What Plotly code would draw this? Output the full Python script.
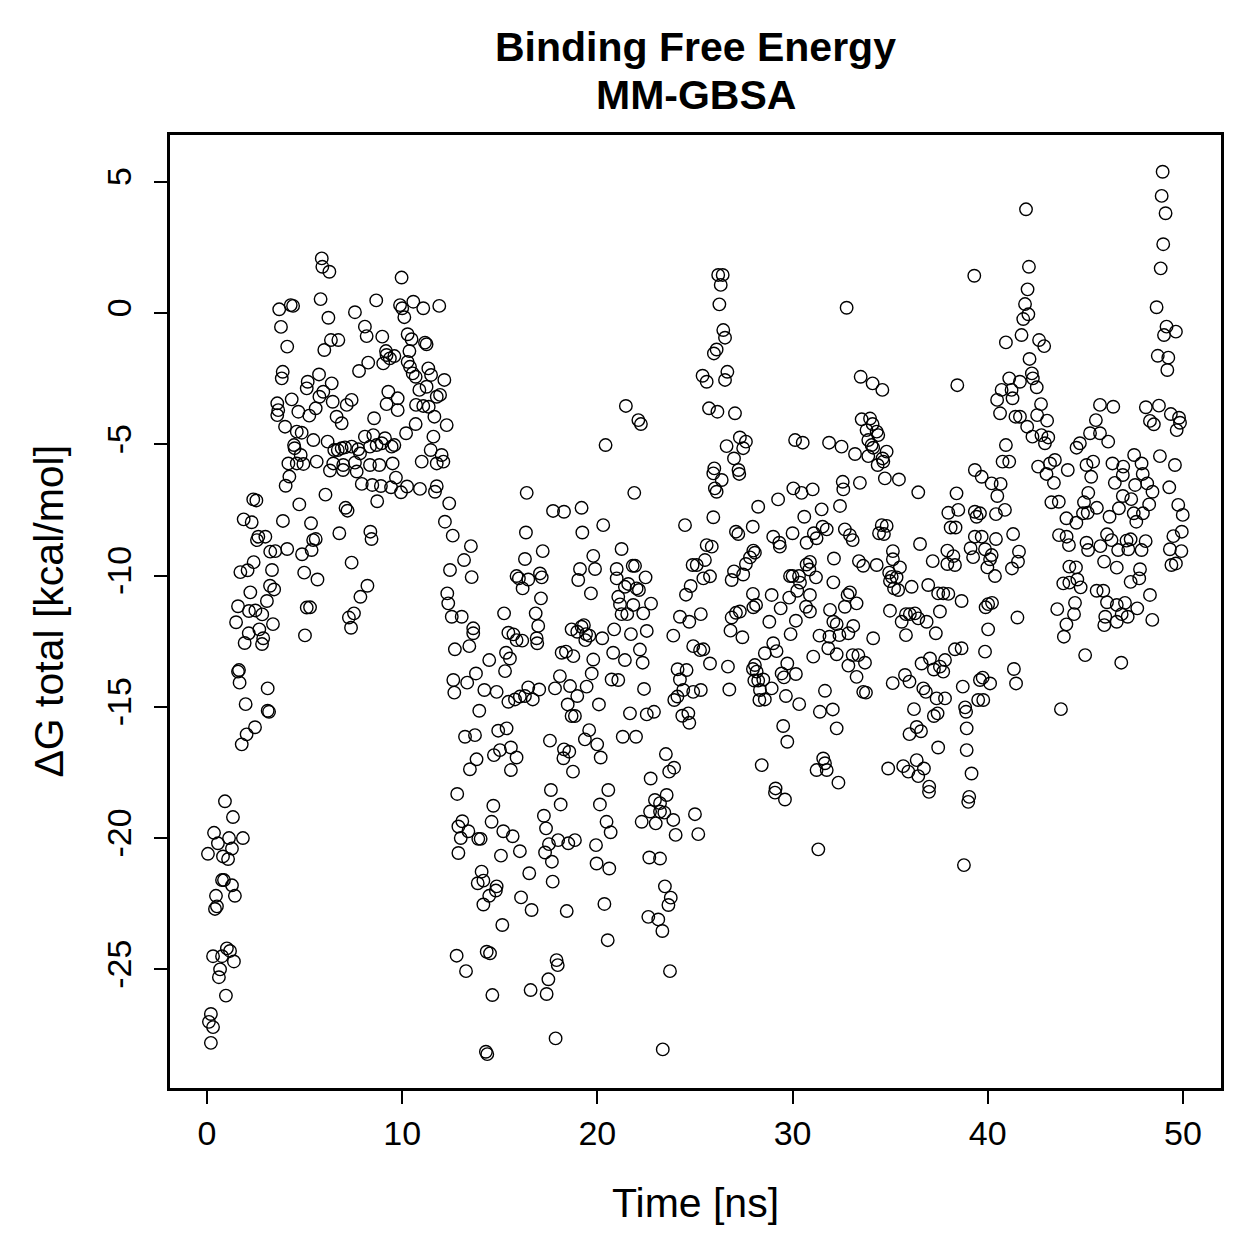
import plotly.graph_objects as go

# (time [ns], dG total [kcal/mol]), grouped by region
seg_0_2 = [(0.92,-18.6),(1.33,-19.2),(0.36,-19.8),(0.56,-20.2),(1.13,-20.0),(1.84,-20.0),(1.28,-20.4),(0.05,-20.6),(0.82,-20.7),(1.08,-20.8),
           (0.77,-21.6),(0.87,-21.6),(1.28,-21.8),(1.43,-22.2),(0.46,-22.2),(0.51,-22.6),(0.41,-22.7),(1.02,-24.2),(1.18,-24.3),(0.31,-24.5),
           (0.77,-24.5),(1.38,-24.7),(0.67,-25.0),(0.61,-25.3),(0.97,-26.0),(0.2,-26.7),(0.1,-27.0),(0.31,-27.2),(0.2,-27.8)]

seg_2_12_low = [(1.78,-16.43),(2.03,-16.05),(2.46,-15.78),(1.98,-14.9),(3.11,-15.15),(3.18,-15.19),(3.11,-14.3),(1.67,-14.08),(1.59,-13.66),(1.64,-13.6),
                (5.02,-12.28),(1.93,-12.57),(2.82,-12.61),(2.88,-12.39),(2.14,-12.2),(2.68,-12.05),(3.38,-11.85),(1.49,-11.78),(1.59,-11.17),(2.15,-11.35),
                (2.48,-11.33),(2.83,-11.48),(3.07,-10.97),(2.22,-10.64),(3.23,-10.39),(3.44,-10.53),(1.71,-9.87),(2.08,-9.8),(2.39,-9.49),(3.33,-9.79),
                (4.98,-9.89),(5.66,-10.15),(5.11,-11.22),(5.28,-11.21),(7.41,-9.51),(8.22,-10.39),(7.86,-10.81),(7.53,-11.44),(7.27,-11.6),(7.38,-11.99),
                (1.88,-7.86),(2.29,-7.97),(2.37,-7.1),(2.53,-7.14),(2.63,-8.52),(2.99,-8.52),(2.56,-8.65),(3.24,-9.09),(3.5,-9.07),(4.11,-8.99),
                (3.89,-7.92),(4.73,-7.29),(4.87,-9.19),(5.36,-9.03),(5.44,-8.65),(5.57,-8.61),(5.33,-8.01),(6.07,-6.92),(6.78,-8.39),(7.1,-7.42),
                (7.2,-7.53),(8.37,-8.33),(8.43,-8.61),(8.72,-7.17),(4.03,-6.58),(4.22,-6.23),(7.93,-6.51),(8.47,-6.55),(8.91,-6.59),(9.43,-6.64),
                (9.94,-6.83),(10.25,-6.61),(10.91,-6.7),(9.68,-6.27),(11.68,-6.81),(11.77,-6.6),(6.3,-6.0),(6.97,-5.98),(7.67,-6.04)]

seg_3_12_high = [(5.88,2.08),(5.91,1.76),(6.27,1.57),(9.97,1.35),(5.82,0.53),(8.67,0.48),(3.7,0.14),(4.29,0.3),(4.41,0.27),(6.22,-0.18),
                 (7.58,0.03),(9.89,0.3),(10.0,0.18),(10.11,-0.16),(10.57,0.43),(11.08,0.18),(11.9,0.27),(3.79,-0.53),(4.11,-1.28),(8.09,-0.52),
                 (8.18,-0.88),(8.98,-0.9),(6.35,-1.03),(6.73,-1.03),(6.01,-1.41),(10.28,-0.81),(10.48,-1.0),(11.17,-1.13),(11.25,-1.19),(10.37,-1.45),
                 (9.17,-1.45),(9.2,-1.6),(9.37,-1.73),(9.6,-1.64),(9.03,-1.92),(8.26,-1.89),(7.79,-2.21),(10.28,-1.86),(10.4,-2.05),(10.54,-2.3),
                 (10.69,-2.43),(11.34,-2.11),(11.48,-2.36),(3.88,-2.24),(3.83,-2.49),(5.74,-2.34),(5.16,-2.62),(5.11,-2.87),(6.39,-2.68),(5.96,-3.0),
                 (5.76,-3.19),(4.34,-3.29),(3.6,-3.44),(3.65,-3.7),(3.6,-3.89),(6.44,-3.38),(7.41,-3.31),(7.16,-3.5),(4.68,-3.76),(5.24,-3.91),
                 (5.57,-3.63),(6.64,-3.95),(6.9,-4.2),(9.29,-3.0),(9.77,-3.25),(9.2,-3.47),(9.77,-3.7),(8.56,-4.01),(10.71,-3.5),(10.88,-2.93),
                 (11.25,-2.81),(11.08,-3.54),(11.36,-3.57),(11.65,-3.95),(11.77,-3.19),(10.69,-4.23),(10.2,-4.58),(4.0,-4.33),(4.6,-4.52),(4.85,-4.56),
                 (5.45,-4.84),(6.18,-4.9),(4.46,-5.03),(4.49,-5.15),(4.8,-5.41),(4.17,-5.73),(4.6,-5.73),(4.94,-5.75),(5.62,-5.66),(6.52,-5.22),
                 (6.7,-5.22),(6.9,-5.15),(7.07,-5.12),(7.41,-5.09),(6.47,-5.73),(6.98,-5.79),(7.58,-5.7),(7.75,-5.19),(7.84,-5.35),(8.09,-4.71),
                 (8.35,-5.09),(8.52,-4.65),(8.69,-5.03),(8.95,-4.96),(9.12,-4.77),(9.46,-5.09),(9.6,-5.03),(9.51,-5.73),(8.83,-5.79),(8.35,-5.79),
                 (11.0,-5.66),(11.46,-5.22),(11.6,-4.71),(11.77,-5.73),(12.16,-2.55),(11.94,-3.12),(12.28,-4.27),(12.02,-5.41),(12.11,-5.66)]

seg_12_26_mid = [(21.46,-3.54),(22.1,-4.08),(22.23,-4.23),(20.42,-5.03),
                 (16.38,-6.85),(21.89,-6.85),(17.73,-7.54),(18.29,-7.57),(19.19,-7.42),(20.3,-8.08),(24.49,-8.08),(19.23,-8.36),(16.34,-8.36),(12.41,-7.25),
                 (12.19,-7.95),(12.59,-8.48),(13.52,-8.88),(17.2,-9.07),(21.24,-8.99),(19.79,-9.25),(19.88,-9.75),(19.11,-9.75),(19.02,-10.17),(16.29,-9.37),
                 (13.17,-9.41),(12.45,-9.79),(13.56,-10.06),(15.86,-10.02),(15.98,-10.11),(16.46,-10.15),(16.17,-10.49),(17.06,-9.92),(17.15,-10.07),(17.11,-10.87),
                 (19.67,-10.68),(20.99,-9.75),(20.99,-10.11),(21.81,-9.63),(21.93,-9.63),(22.47,-10.07),(21.58,-10.32),(21.41,-10.43),(22.01,-10.49),(22.13,-10.55),
                 (21.07,-10.81),(21.16,-11.1),(21.84,-11.12),(21.24,-11.47),(21.53,-11.47),(22.35,-11.44),(22.75,-11.07),(22.53,-12.11),(21.72,-12.23),(22.18,-12.82),
                 (22.32,-13.32),(21.41,-13.22),(20.81,-12.94),(20.86,-12.05),(20.25,-12.39),(19.79,-13.2),(19.71,-13.73),(20.73,-13.96),(21.07,-13.98),(22.39,-14.32),
                 (19.45,-14.23),(18.97,-14.59),(18.48,-14.91),(18.68,-15.35),(18.85,-15.35),(20.08,-14.91),(21.67,-15.25),(22.53,-15.29),(22.9,-15.19),(19.58,-15.89),
                 (19.36,-16.24),(19.99,-16.43),(20.17,-16.93),(21.3,-16.14),(21.98,-16.14),(23.51,-16.8),(23.68,-17.47),(23.93,-17.32),(22.73,-17.73),(18.75,-17.47),
                 (17.57,-16.29),(18.29,-16.62),(18.56,-16.71),(18.26,-16.96),(15.57,-16.55),(15.86,-16.93),(15.57,-17.41),(15.01,-16.65),(14.7,-16.84),(15.35,-15.82),
                 (14.92,-15.91),(13.73,-16.08),(13.22,-16.14),(13.81,-17.0),(13.47,-17.38),(13.95,-15.15),(12.67,-14.46),(12.62,-13.98),(13.33,-14.08),(13.78,-13.73),
                 (14.21,-14.36),(14.84,-14.43),(15.44,-14.81),(15.78,-14.72),(16.03,-14.61),(16.29,-14.59),(16.46,-14.26),(16.69,-14.72),(17.02,-14.34),(17.83,-14.3),
                 (18.08,-13.83),(18.6,-14.21),(14.46,-13.22),(15.27,-13.64),(15.52,-13.16),(15.32,-12.94),(12.7,-12.81),(13.44,-12.69),(13.64,-12.01),(13.64,-12.2),
                 (13.05,-11.57),(12.54,-11.57),(12.36,-11.06),(12.31,-10.68),(15.22,-11.44),(15.44,-12.18),(15.7,-12.24),(15.86,-12.46),(16.15,-12.48),(16.84,-11.44),
                 (16.97,-11.92),(16.89,-12.39),(16.92,-12.58),(18.17,-12.94),(18.39,-12.9),(18.77,-13.07),(18.68,-12.05),(18.97,-12.14),(19.19,-11.95),(19.31,-11.89),
                 (19.42,-12.23),(19.59,-12.29),(19.38,-12.46),(23.89,-12.29),(24.11,-13.57),(24.23,-13.96),(24.57,-13.6),(23.94,-14.74),(24.1,-14.61),(24.4,-14.36),
                 (24.91,-14.43),(25.3,-14.36),(24.35,-15.34),(24.66,-15.25),(24.71,-15.61),(24.91,-12.69),(25.26,-12.84),(25.43,-12.81),(24.23,-11.57),(24.71,-11.76),
                 (25.3,-11.47),(24.54,-10.73),(24.78,-10.4),(24.88,-9.6),(25.09,-9.6),(25.51,-9.41),(25.43,-10.11),(25.6,-8.84)]

seg_12_26_low = [(12.82,-18.32),(14.67,-18.77),(13.08,-19.36),(12.88,-19.56),(13.39,-19.74),(13.0,-20.0),(13.9,-20.03),(14.02,-20.03),(14.58,-19.38),(15.18,-19.74),
                 (15.66,-19.93),(12.88,-20.57),(15.06,-20.67),(16.03,-20.5),(17.26,-19.15),(17.37,-19.63),(18.12,-18.72),(17.52,-20.23),(17.32,-20.55),(17.99,-20.08),
                 (18.51,-20.2),(18.85,-20.08),(17.67,-20.9),(16.51,-21.34),(17.71,-21.66),(14.07,-21.28),(13.87,-21.72),(14.16,-21.62),(14.84,-21.84),(14.8,-22.0),
                 (14.46,-22.2),(14.16,-22.53),(16.09,-22.26),(16.63,-22.74),(18.43,-22.78),(15.13,-23.31),(20.13,-18.72),(20.47,-19.38),(20.68,-19.78),(19.93,-20.27),
                 (19.96,-20.97),(20.61,-21.16),(20.36,-22.51),(20.53,-23.89),(22.27,-19.38),(22.7,-18.99),(22.95,-18.55),(23.21,-18.67),(23.55,-18.36),(23.21,-18.99),
                 (23.43,-19.03),(22.99,-19.44),(23.89,-19.31),(24.01,-19.88),(25.0,-19.09),(25.17,-19.85),(22.66,-20.74),(23.21,-20.78),(23.46,-21.84),(23.76,-22.27),
                 (23.64,-22.55),(22.61,-23.0),(23.12,-23.1),(23.33,-23.54),(23.72,-25.07),(23.35,-28.05),(12.79,-24.48),(13.27,-25.07),(14.33,-24.33),(14.5,-24.39),
                 (14.62,-25.98),(14.29,-28.14),(14.36,-28.23),(16.58,-25.79),(17.4,-25.94),(17.49,-25.38),(17.91,-24.65),(17.97,-24.84),(17.86,-27.63),(20.56,-18.17),
                 (17.62,-18.17)]

seg_25_40_high = [(25.39,-2.39),(25.6,-2.62),(25.72,-3.63),
                  (26.19,1.45),(26.42,1.45),(26.32,1.07),(26.25,0.33),(26.45,-0.65),(26.54,-0.94),(26.11,-1.39),(25.97,-1.54),(26.66,-2.24),(26.54,-2.55),
                  (26.15,-3.76),(27.05,-3.82),(27.3,-4.74),(27.61,-4.9),(27.47,-5.15),(26.62,-5.07),(27.0,-5.54),(25.99,-5.92),(27.23,-5.98),(32.77,0.2),
                  (39.31,1.42),(38.44,-2.75),(33.49,-2.43),(34.1,-2.68),(34.6,-2.93),(30.13,-4.84),(30.52,-4.94),(31.87,-4.94),(32.51,-5.09),(33.2,-5.37),
                  (33.54,-4.05),(33.97,-4.02),(34.1,-4.23),(33.79,-4.46),(34.31,-4.52),(34.39,-4.65),(33.88,-4.84),(34.05,-5.03),(34.13,-5.13),(33.88,-5.45),
                  (34.82,-5.28),(34.61,-5.54),(34.65,-5.66),(34.36,-5.79),(39.34,-5.98)]

seg_25_40_mid = [(27.27,-6.13),(25.94,-6.11),(26.37,-6.36),(26.02,-6.68),(26.11,-6.81),(25.94,-7.78),(25.86,-8.9),(25.77,-10.03),(30.04,-6.68),(30.46,-6.85),
                 (31.03,-6.72),(32.57,-6.43),(32.6,-6.72),(33.45,-6.47),(34.73,-6.3),(35.45,-6.34),(36.44,-6.83),(38.4,-6.87),(29.26,-7.1),(28.24,-7.38),
                 (31.49,-7.48),(32.43,-7.35),(30.6,-7.76),(27.96,-8.14),(27.1,-8.33),(27.22,-8.42),(29.01,-8.52),(29.32,-8.75),(29.35,-8.9),(30.0,-8.39),
                 (30.72,-8.75),(31.09,-8.39),(31.23,-8.58),(31.54,-8.14),(31.75,-8.24),(32.68,-8.24),(32.94,-8.46),(33.08,-8.65),(34.57,-8.08),(34.82,-8.11),
                 (34.43,-8.39),(34.68,-8.42),(36.53,-8.8),(37.98,-7.61),(38.49,-7.5),(38.1,-8.17),(38.35,-8.17),(39.34,-7.57),(39.43,-7.76),(39.34,-8.52),
                 (39.12,-8.96),(39.25,-9.3),(37.93,-9.05),(38.24,-9.26),(37.93,-9.56),(38.32,-9.6),(37.18,-9.45),(35.14,-9.07),(35.14,-9.38),(35.5,-9.69),
                 (33.4,-9.45),(33.62,-9.63),(34.31,-9.6),(32.12,-9.35),(30.72,-9.58),(30.89,-9.48),(30.86,-9.77),(27.99,-9.05),(28.07,-9.13),(27.82,-9.31),
                 (27.61,-9.56),(27.0,-9.84),(27.47,-9.96),(26.88,-10.17),(29.87,-10.02),(30.0,-10.02),(30.33,-10.02),(31.2,-10.07),(30.38,-10.27),(32.09,-10.26),
                 (34.95,-9.89),(35.08,-10.05),(35.33,-10.07),(34.99,-10.21),(35.2,-10.49),(35.41,-10.55),(36.1,-10.43),(36.95,-10.36),(37.46,-10.68),(37.72,-10.68),
                 (37.98,-10.7),(38.66,-10.97),(27.97,-10.7),(28.93,-10.74),(29.83,-10.84),(30.89,-10.74),(30.24,-10.58),(28.13,-11.12),(27.99,-11.21),(27.3,-11.37),
                 (27.1,-11.42),(26.88,-11.6),(26.82,-12.1),(27.43,-12.35),(28.81,-11.76),(29.39,-11.25),(29.9,-12.23),(30.17,-11.72),(30.69,-11.19),(30.89,-11.37),
                 (31.92,-11.31),(32.09,-11.76),(32.26,-11.85),(32.68,-11.19),(32.82,-10.74),(32.94,-10.64),(33.28,-11.06),(33.11,-11.92),(32.86,-12.2),(32.4,-12.27),
                 (31.89,-12.33),(31.38,-12.29),(34.13,-12.39),(34.99,-11.34),(35.81,-11.47),(36.01,-11.47),(36.27,-11.44),(36.44,-11.63),(36.87,-11.76),(35.59,-11.76),
                 (35.81,-12.27),(37.55,-11.37),(37.34,-12.2),(38.32,-12.81),(38.66,-12.77),(29.01,-12.58),(29.18,-12.88),(28.58,-12.96),(31.06,-13.09),(31.83,-12.77),
                 (32.26,-13.0),(32.86,-13.43),(33.08,-13.03),(33.37,-13.03),(33.71,-13.32),(33.28,-13.86),(33.62,-14.43),(33.76,-14.46),(31.66,-14.39),(26.69,-13.47),
                 (25.77,-13.35),(26.76,-14.34),(27.97,-13.56),(28.07,-13.41),(28.16,-13.66),(28.04,-14.0),(28.24,-14.0),(28.5,-13.96),(28.33,-14.36),(28.58,-14.72),
                 (28.3,-14.74),(28.93,-14.3),(29.44,-13.73),(29.73,-13.35),(29.56,-13.88),(30.17,-13.75),(29.66,-14.59),(30.34,-14.9),(31.4,-15.19),(32.06,-15.1)]

seg_25_40_low = [(29.52,-15.73),(29.73,-16.33),(32.26,-15.82),(28.42,-17.22),(31.57,-16.97),(31.66,-17.15),(31.23,-17.41),(31.75,-17.41),(32.35,-17.89),(29.13,-18.11),
                 (34.9,-17.35),(35.67,-17.26),(35.93,-17.47),(36.36,-17.03),(36.73,-17.35),(36.44,-17.64),(37.0,-18.04),(37.46,-16.55),(35.99,-16.04),(36.36,-15.77),
                 (36.58,-15.93),(37.24,-15.35),(37.43,-15.25),(36.22,-15.09),(35.13,-14.1),(35.76,-13.79),(35.99,-14.04),(36.7,-14.3),(36.83,-14.43),(37.38,-14.68),
                 (37.81,-14.68),(36.61,-13.35),(37.04,-13.16),(37.24,-13.58),(37.55,-13.47),(37.72,-13.66),(37.81,-13.22),(38.72,-14.23),(38.84,-15.02),(38.89,-15.19),
                 (38.92,-15.82),(38.92,-16.65),(39.17,-17.54),(39.51,-14.74),(39.6,-13.98),(29.1,-18.27),(29.61,-18.53),(31.32,-20.43),(36.99,-18.24),(39.05,-18.43),
                 (39.0,-18.62),(38.78,-21.03)]

seg_40_50_high = [(41.96,3.95),(42.11,1.76),(42.04,0.9),(41.91,0.34),(42.08,-0.05),(41.82,-0.23),(41.73,-0.84),(40.93,-1.12),(42.63,-1.03),(42.89,-1.26),
                  (42.14,-1.75),(42.26,-2.3),(42.31,-2.49),(42.51,-2.83),(41.1,-2.49),(41.65,-2.62),(40.71,-2.93),(41.22,-2.93),(40.48,-3.31),(41.27,-3.25),
                  (40.63,-3.82),(42.73,-3.47),(41.42,-3.95),(41.65,-3.95),(42.02,-4.33),(42.53,-3.89),(43.04,-4.1),(42.29,-4.71),(42.75,-4.65),(42.93,-4.96),
                  (43.1,-4.74),(43.44,-5.6),(43.19,-5.73),(40.93,-5.03),(40.76,-5.66),(41.1,-5.66),(42.58,-5.85),(44.72,-4.96),(44.55,-5.13),(45.24,-4.58),
                  (45.54,-4.08),(45.75,-3.5),(46.43,-3.57),(45.75,-4.58),(46.17,-4.9),(47.5,-5.41),(47.88,-5.73),(45.06,-5.79),(45.4,-5.66),(46.39,-5.73),
                  (46.94,-5.85),(48.96,5.38),(48.91,4.46),(49.11,3.8),(48.99,2.62),(48.86,1.7),(48.65,0.22),(49.16,-0.52),(49.64,-0.71),(49.03,-0.84),
                  (48.71,-1.63),(49.25,-1.7),(49.2,-2.17),(48.1,-3.59),(48.77,-3.53),(49.38,-3.85),(49.8,-3.99),(49.85,-4.18),(49.68,-4.46),(48.31,-4.11),
                  (48.51,-4.24),(48.82,-5.45),(49.59,-5.79)]

seg_40_50_low = [(39.69,-6.24),(40.2,-6.49),(40.66,-6.51),(40.49,-6.97),(40.88,-7.5),(40.42,-7.66),(39.6,-7.63),(41.3,-8.42),(40.42,-8.61),(39.69,-8.52),
                 (39.86,-9.0),(40.2,-9.22),(40.12,-9.38),(39.98,-9.69),(40.37,-10.02),(41.6,-9.09),(41.55,-9.47),(41.24,-9.73),(40.22,-11.04),(40.02,-11.09),
                 (39.89,-11.21),(41.52,-11.6),(40.02,-12.05),(39.86,-12.9),(41.34,-13.56),(41.45,-14.11),(39.74,-13.89),(40.12,-14.11),(39.77,-14.74),(43.26,-7.21),
                 (43.64,-7.19),(44.03,-7.82),(44.54,-7.99),(44.88,-7.63),(45.12,-7.61),(44.93,-7.21),(45.15,-6.85),(43.39,-6.47),(43.01,-6.13),(44.1,-5.98),
                 (45.3,-6.24),(45.59,-7.42),(46.24,-7.76),(46.72,-7.44),(46.92,-6.97),(47.35,-7.09),(47.48,-7.63),(47.61,-7.95),(47.95,-7.63),(48.27,-7.29),
                 (48.44,-6.81),(48.17,-6.49),(47.55,-6.55),(47.94,-6.13),(46.51,-6.47),(46.92,-6.17),(49.3,-6.64),(49.76,-7.31),(49.99,-7.69),(49.94,-8.33),
                 (49.51,-8.5),(49.33,-9.0),(49.92,-9.07),(49.41,-9.6),(49.64,-9.54),(43.65,-8.46),(44.04,-8.52),(44.16,-8.84),(45.06,-8.75),(45.14,-9.03),
                 (45.77,-8.88),(46.11,-8.43),(46.34,-8.65),(46.68,-9.03),(47.11,-8.67),(47.32,-8.62),(47.2,-9.0),(47.88,-9.03),(48.09,-8.69),(45.96,-9.47),
                 (46.61,-9.7),(47.8,-9.76),(47.76,-10.11),(47.32,-10.24),(48.31,-10.74),(44.18,-9.66),(44.52,-9.69),(43.87,-10.3),(44.18,-10.27),(44.59,-10.15),
                 (44.76,-10.45),(45.58,-10.58),(45.92,-10.58),(46.11,-11.02),(46.61,-11.12),(47.03,-11.04),(47.66,-11.25),(46.02,-11.57),(45.97,-11.89),(46.61,-11.76),
                 (46.86,-11.47),(47.17,-11.57),(48.43,-11.69),(44.47,-11.04),(43.56,-11.28),(44.42,-11.47),(44.03,-11.86),(43.9,-12.33),(44.99,-13.03),(46.84,-13.32),
                 (43.75,-15.09)]

x_ticks = [0, 10, 20, 30, 40, 50]
y_ticks = [-25, -20, -15, -10, -5, 0, 5]
y_tick_text = ["-25", "-20", "-15", "-10", "-5", "0", "5"]

segments = [seg_0_2, seg_2_12_low, seg_3_12_high, seg_12_26_mid, seg_12_26_low,
            seg_25_40_high, seg_25_40_mid, seg_25_40_low, seg_40_50_high, seg_40_50_low]
points = sorted(p for s in segments for p in s)
time_ns = [p[0] for p in points]
dg_total = [p[1] for p in points]

FONT = "Liberation Sans, Arial, Helvetica, sans-serif"

fig = go.Figure()
fig.add_trace(go.Scatter(
    x=time_ns, y=dg_total, mode="markers",
    marker=dict(symbol="circle-open", size=12.5, color="black", line=dict(width=1.4)),
    showlegend=False, hoverinfo="x+y"))

axis_common = dict(showgrid=False, zeroline=False, showline=True, linecolor="black",
                   linewidth=2.5, mirror=True, ticks="outside", ticklen=13, tickwidth=2,
                   tickcolor="black", tickfont=dict(family=FONT, size=34, color="black"))

fig.update_layout(
    width=1259, height=1259,
    margin=dict(l=170, r=38, t=135, b=171),
    paper_bgcolor="white", plot_bgcolor="white",
    xaxis=dict(range=[-1.895, 51.95], tickvals=x_ticks, ticktext=[str(v) for v in x_ticks], **axis_common),
    yaxis=dict(range=[-29.52, 6.78], tickvals=y_ticks, ticktext=y_tick_text, tickangle=-90,
               ticklabelstandoff=10, **axis_common),
    annotations=[
        dict(text="<b>Binding Free Energy</b>", xref="paper", yref="paper", x=0.5, y=1.0923,
             xanchor="center", yanchor="middle", showarrow=False,
             font=dict(family=FONT, size=41, color="black")),
        dict(text="<b>MM-GBSA</b>", xref="paper", yref="paper", x=0.5, y=1.042,
             xanchor="center", yanchor="middle", showarrow=False,
             font=dict(family=FONT, size=41, color="black")),
        dict(text="Time [ns]", xref="paper", yref="paper", x=0.5, y=-0.1207,
             xanchor="center", yanchor="middle", showarrow=False,
             font=dict(family=FONT, size=41, color="black")),
        dict(text="ΔG total [kcal/mol]", xref="paper", yref="paper", x=-0.116, y=0.5,
             xanchor="center", yanchor="middle", textangle=-90, showarrow=False,
             font=dict(family=FONT, size=41, color="black")),
    ],
)

fig.write_html("out.html")
